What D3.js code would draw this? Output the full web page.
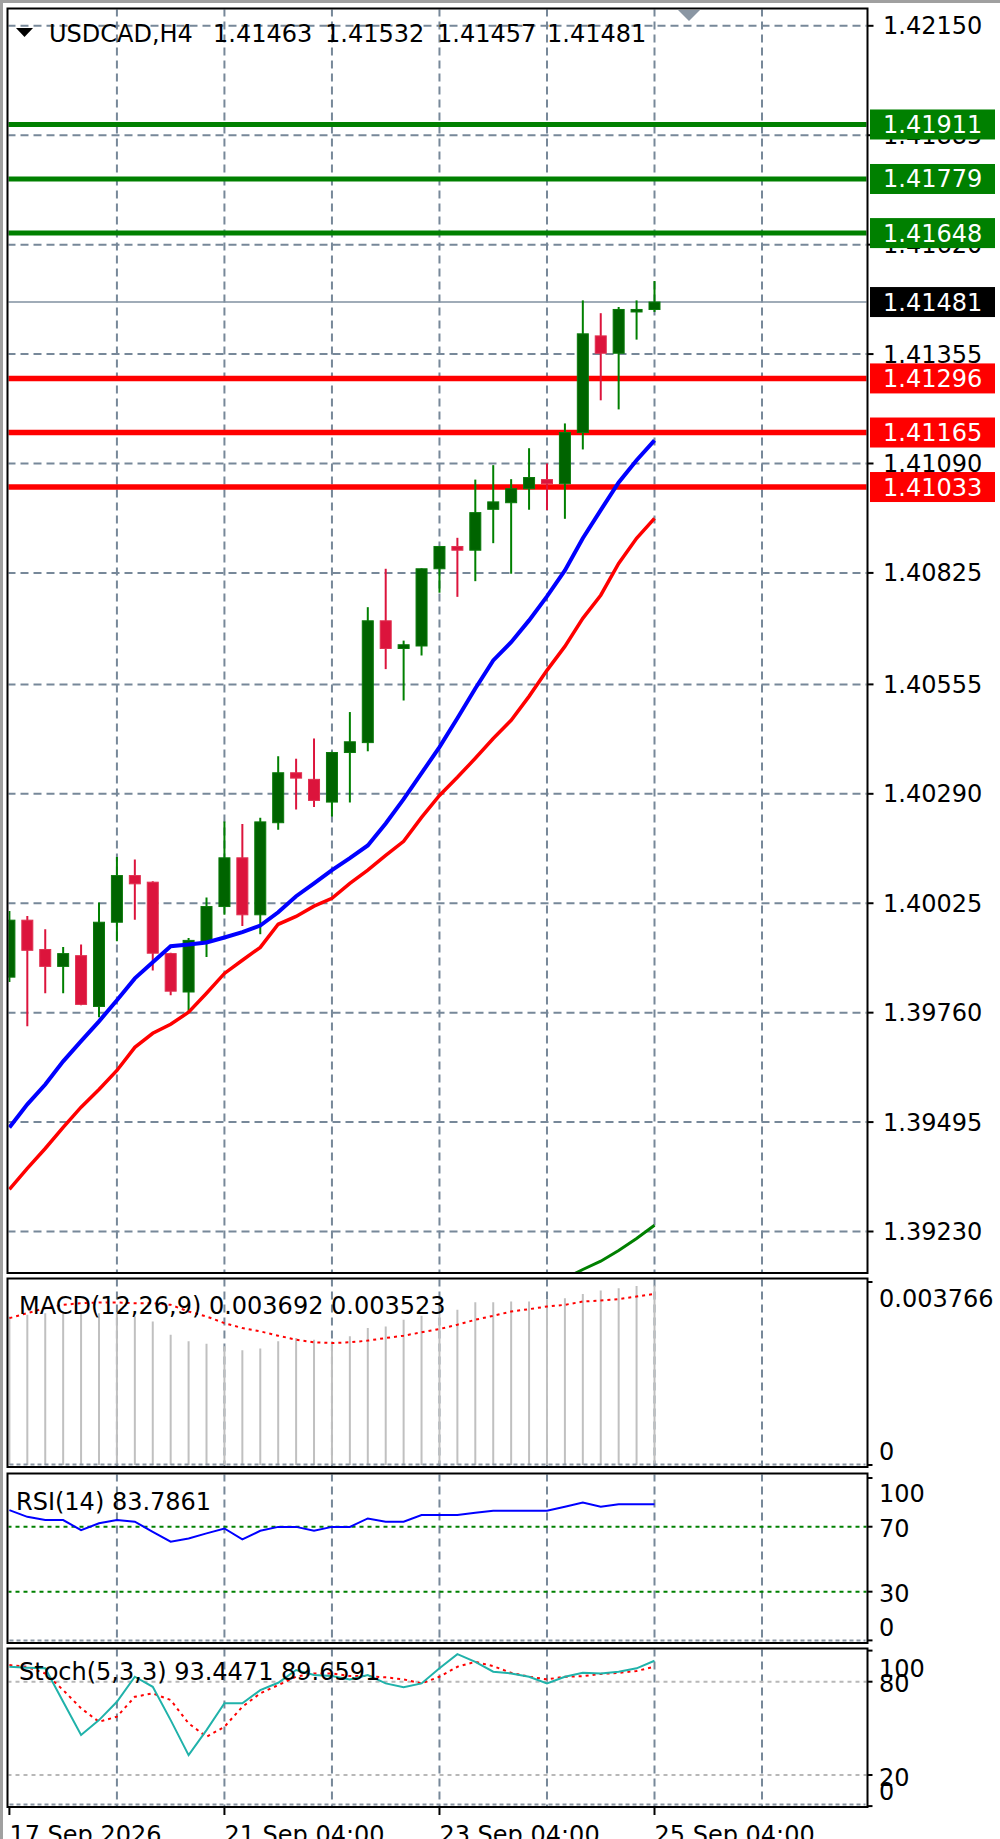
<!DOCTYPE html>
<html><head><meta charset="utf-8">
<script src="https://cdn.jsdelivr.net/npm/d3@7"></script>
<style>body{margin:0;background:#fff}svg{display:block}text{font-family:"DejaVu Sans",sans-serif}</style>
</head><body><svg id="c" width="1000" height="1839"></svg>
<script>
// ---------------- DATA ----------------
const headerSymbol = "USDCAD,H4";
const headerOHLC = ["1.41463", "1.41532", "1.41457", "1.41481"];

const open  = [1.39846,1.39984,1.39913,1.39872,1.39898,1.39775,1.39979,1.40092,1.40076,1.39903,1.39810,1.39933,1.40017,1.40135,1.39997,1.40220,1.40341,1.40325,1.40270,1.40390,1.40414,1.40709,1.40642,1.40648,1.40835,1.40889,1.40880,1.40979,1.40995,1.41029,1.41051,1.41041,1.41165,1.41399,1.41357,1.41460,1.41463];
const high  = [1.40006,1.39994,1.39962,1.39919,1.39925,1.40027,1.40137,1.40131,1.40078,1.39905,1.39941,1.40039,1.40223,1.40217,1.40232,1.40381,1.40375,1.40424,1.40392,1.40488,1.40742,1.40835,1.40661,1.40836,1.40890,1.40910,1.41051,1.41086,1.41052,1.41127,1.41090,1.41187,1.41485,1.41454,1.41469,1.41485,1.41532];
const low   = [1.39834,1.39727,1.39807,1.39807,1.39778,1.39749,1.39933,1.39985,1.39862,1.39802,1.39764,1.39895,1.39997,1.39970,1.39950,1.40203,1.40252,1.40258,1.40235,1.40269,1.40393,1.40592,1.40516,1.40625,1.40777,1.40767,1.40805,1.40897,1.40823,1.40978,1.40977,1.40956,1.41124,1.41243,1.41221,1.41390,1.41457];
const close = [1.39984,1.39911,1.39872,1.39903,1.39780,1.39979,1.40092,1.40072,1.39904,1.39812,1.39935,1.40017,1.40135,1.39997,1.40222,1.40341,1.40328,1.40274,1.40390,1.40416,1.40709,1.40642,1.40651,1.40835,1.40889,1.40880,1.40971,1.40997,1.41029,1.41056,1.41041,1.41165,1.41404,1.41357,1.41463,1.41463,1.41481];

const maBlue = [1.39482,1.39538,1.39586,1.39642,1.39691,1.39739,1.39790,1.39843,1.39882,1.39921,1.39925,1.39930,1.39942,1.39955,1.39971,1.40003,1.40042,1.40073,1.40105,1.40134,1.40165,1.40218,1.40277,1.40340,1.40403,1.40473,1.40545,1.40613,1.40657,1.40710,1.40768,1.40831,1.40909,1.40977,1.41044,1.41098,1.41146];
const maRed  = [1.39332,1.39383,1.39431,1.39482,1.39531,1.39574,1.39620,1.39676,1.39710,1.39732,1.39761,1.39807,1.39855,1.39887,1.39918,1.39974,1.39993,1.40018,1.40037,1.40073,1.40105,1.40141,1.40175,1.40233,1.40286,1.40330,1.40376,1.40424,1.40468,1.40526,1.40589,1.40647,1.40715,1.40771,1.40848,1.40909,1.40957];
const maGreen = [null,null,null,null,null,null,null,null,null,null,null,null,null,null,null,null,null,null,null,null,null,null,null,null,null,null,null,null,null,null,1.39100,1.39116,1.39138,1.39158,1.39184,1.39213,1.39245];

const priceTicks = [1.42150,1.41885,1.41620,1.41355,1.41090,1.40825,1.40555,1.40290,1.40025,1.39760,1.39495,1.39230];
const resistance = [1.41911,1.41779,1.41648];
const support    = [1.41296,1.41165,1.41033];
const lastPrice  = 1.41481;

const macdLabel = "MACD(12,26,9) 0.003692 0.003523";
const macdHist = [0.003057,0.003091,0.003125,0.003139,0.003139,0.003125,0.003125,0.003057,0.002955,0.002682,0.002545,0.002497,0.002443,0.002360,0.002395,0.002545,0.002613,0.002579,0.002545,0.002648,0.002818,0.002852,0.002989,0.003070,0.003139,0.003193,0.003351,0.003351,0.003364,0.003364,0.003398,0.003432,0.003521,0.003589,0.003636,0.003685,0.003692];
const macdSignal = [0.003022,0.003125,0.003228,0.003296,0.003330,0.003344,0.003344,0.003330,0.003330,0.003296,0.003159,0.003057,0.002920,0.002818,0.002750,0.002661,0.002579,0.002525,0.002511,0.002525,0.002560,0.002613,0.002661,0.002730,0.002798,0.002887,0.002989,0.003070,0.003159,0.003207,0.003262,0.003296,0.003364,0.003385,0.003412,0.003467,0.003523];
const macdAxis = [0.003766, 0];
const macdAxisLabels = ["0.003766", "0"];

const rsiLabel = "RSI(14) 83.7861";
const rsi = [80.2,76.1,74.1,74.1,67.9,72.1,74.1,73.1,66.9,60.8,62.8,65.9,68.9,62.2,67.5,69.9,69.9,67.5,69.9,69.9,75.1,73.1,73.1,77.2,77.2,77.2,78.6,79.9,79.9,79.9,79.9,82.3,84.9,82.3,83.9,83.9,83.79];
const rsiLevels = [70, 30];
const rsiAxis = [100, 70, 30, 0];

const stochLabel = "Stoch(5,3,3) 93.4471 89.6591";
const stochMain = [89.6,89.0,88.6,67.1,45.7,55.3,67.1,83.2,76.7,55.3,32.8,48.9,66.1,66.1,74.6,79.3,87.5,84.3,83.6,81.5,84.3,78.9,76.4,78.9,88.6,97.7,92.8,86.4,85.3,83.2,78.9,83.2,85.7,85.3,86.4,88.6,93.45];
const stochSignal = [90.7,89.5,85.3,74.6,62.9,54.2,57.5,70.3,72.5,68.2,53.2,44.6,51.0,63.9,72.5,77.8,83.2,85.3,85.3,83.6,83.6,82.8,81.5,78.9,83.2,89.6,92.8,90.0,85.7,83.2,81.5,83.2,83.6,85.0,85.7,86.9,89.66];
const stochLevels = [80, 20];
const stochAxis = [100, 80, 20, 0];

const timeTickIndex = [0, 12, 24, 36];
const timeTickLabels = ["17 Sep 2026", "21 Sep 04:00", "23 Sep 04:00", "25 Sep 04:00"];
const gridEvery = 6;

// ---------------- LAYOUT ----------------
const svg = d3.select("#c");
const L = 7.5, R = 867.5;
const main = {top: 8.5, bottom: 1273};
const pMacd = {top: 1278.5, bottom: 1467};
const pRsi = {top: 1473.5, bottom: 1643};
const pSto = {top: 1648.5, bottom: 1807};
const FS = 24;
const gridColor = "#778899";

const x = d3.scaleLinear().domain([0, 36]).range([9.4, 654.5]);
const y = d3.scaleLinear().domain([1.39230, 1.42150]).range([1231.5, 25.8]);
const yMacd = d3.scaleLinear().domain([0, 0.003766]).range([1465, 1282]);
const yRsi = d3.scaleLinear().domain([0, 100]).range([1640.4, 1478]);
const ySto = d3.scaleLinear().domain([0, 100]).range([1806.1, 1650.6]);
const N = open.length;

// outer frame
svg.append("rect").attr("x",0).attr("y",0).attr("width",1000).attr("height",1839).attr("fill","#fff");
svg.append("rect").attr("x",0).attr("y",0).attr("width",1000).attr("height",3).attr("fill","#a0a0a0");
svg.append("rect").attr("x",0).attr("y",0).attr("width",3).attr("height",1839).attr("fill","#a0a0a0");

const defs = svg.append("defs");
function clip(id, p){
  defs.append("clipPath").attr("id",id).append("rect")
    .attr("x",L+1).attr("y",p.top+1).attr("width",R-L-2).attr("height",p.bottom-p.top-2);
}
clip("cMain", main); clip("cMacd", pMacd); clip("cRsi", pRsi); clip("cSto", pSto);

// vertical grid indices
const vGrid = d3.range(gridEvery, 43, gridEvery);
function vGridLines(g, p){
  g.selectAll(null).data(vGrid).join("line")
    .attr("x1", d => x(d)).attr("x2", d => x(d))
    .attr("y1", p.top).attr("y2", p.bottom)
    .attr("stroke", gridColor).attr("stroke-width", 2).attr("stroke-dasharray", "8,5");
}

// ---------------- MAIN PANEL ----------------
const gMain = svg.append("g").attr("clip-path","url(#cMain)");
vGridLines(gMain, main);
gMain.selectAll(null).data(priceTicks).join("line")
  .attr("x1", L).attr("x2", R).attr("y1", d => y(d)).attr("y2", d => y(d))
  .attr("stroke", gridColor).attr("stroke-width", 2).attr("stroke-dasharray", "8,5");

// current price line
gMain.append("line").attr("x1",L).attr("x2",R).attr("y1",y(lastPrice)).attr("y2",y(lastPrice))
  .attr("stroke","#8090a0").attr("stroke-width",1.5);

// level lines
gMain.selectAll(null).data(resistance).join("line")
  .attr("x1",L).attr("x2",R).attr("y1",d=>y(d)).attr("y2",d=>y(d))
  .attr("stroke","#008000").attr("stroke-width",5);
gMain.selectAll(null).data(support).join("line")
  .attr("x1",L).attr("x2",R).attr("y1",d=>y(d)).attr("y2",d=>y(d))
  .attr("stroke","#ff0000").attr("stroke-width",5.5);

// candles
const candles = d3.range(N).map(i => ({i, o:open[i], h:high[i], l:low[i], c:close[i]}));
const cg = gMain.append("g");
cg.selectAll(null).data(candles).join("line")
  .attr("x1", d => x(d.i)).attr("x2", d => x(d.i))
  .attr("y1", d => y(d.h)).attr("y2", d => y(d.l))
  .attr("stroke", d => d.c >= d.o ? "#008000" : "#dc143c").attr("stroke-width", 2);
cg.selectAll(null).data(candles).join("rect")
  .attr("x", d => x(d.i) - 5.5).attr("width", 11)
  .attr("y", d => Math.min(y(d.o), y(d.c)))
  .attr("height", d => Math.max(2.5, Math.abs(y(d.o) - y(d.c))))
  .attr("fill", d => d.c >= d.o ? "#006400" : "#dc143c")
  .attr("stroke", d => d.c >= d.o ? "#0a7a0a" : "#e03050").attr("stroke-width", 1);

// moving averages
const maLine = d3.line().defined(d => d != null).x((d,i) => x(i)).y(d => y(d));
gMain.append("path").attr("d", maLine(maGreen)).attr("fill","none").attr("stroke","#008000").attr("stroke-width",3);
gMain.append("path").attr("d", maLine(maRed)).attr("fill","none").attr("stroke","#ff0000").attr("stroke-width",3.5);
gMain.append("path").attr("d", maLine(maBlue)).attr("fill","none").attr("stroke","#0000ff").attr("stroke-width",4);

// header
svg.append("path").attr("d","M16,28 L33,28 L24.5,37 Z").attr("fill","#000");
svg.append("text").attr("x",49).attr("y",42).attr("font-size",FS).attr("fill","#000").text(headerSymbol);
const hx = [213, 325, 437, 547];
headerOHLC.forEach((t,k) => svg.append("text").attr("x",hx[k]).attr("y",42).attr("font-size",FS).attr("fill","#000").text(t));
// chart shift marker
svg.append("path").attr("d","M678,10 L700,10 L689,21 Z").attr("fill","#8a96a3");

// price axis
const ga = svg.append("g");
priceTicks.forEach(p => {
  ga.append("line").attr("x1",R).attr("x2",R+6).attr("y1",y(p)).attr("y2",y(p)).attr("stroke","#000").attr("stroke-width",2);
  ga.append("text").attr("x",883).attr("y",y(p)+8.5).attr("font-size",FS).attr("fill","#000").text(p.toFixed(5));
});
function priceBox(p, fill){
  ga.append("rect").attr("x",870).attr("y",y(p)-15).attr("width",125).attr("height",30).attr("fill",fill);
  ga.append("text").attr("x",883).attr("y",y(p)+8.5).attr("font-size",FS).attr("fill","#fff").text(p.toFixed(5));
}
resistance.forEach(p => priceBox(p, "#008000"));
support.forEach(p => priceBox(p, "#ff0000"));
priceBox(lastPrice, "#000");

// ---------------- SUB PANELS ----------------
function panelFrame(p){
  svg.append("line").attr("x1",L+2).attr("x2",R-2).attr("y1",p.bottom-2.5).attr("y2",p.bottom-2.5)
    .attr("stroke","#8a96a3").attr("stroke-width",2).attr("stroke-dasharray","4,3");
  svg.append("rect").attr("x",L).attr("y",p.top).attr("width",R-L).attr("height",p.bottom-p.top)
    .attr("fill","none").attr("stroke","#000").attr("stroke-width",2);
}
function axisLabels(p, vals, labels, sc){
  vals.forEach((v,k) => {
    const yy = Math.max(p.top + 20, Math.min(p.bottom - 16, sc(v) + 2));
    svg.append("line").attr("x1",R).attr("x2",R+5).attr("y1",sc(v)).attr("y2",sc(v)).attr("stroke","#000").attr("stroke-width",2);
    svg.append("text").attr("x",879).attr("y",yy+8.5).attr("font-size",FS).attr("fill","#000").text(labels[k]);
  });
}

// MACD
const gM = svg.append("g").attr("clip-path","url(#cMacd)");
vGridLines(gM, pMacd);
gM.selectAll(null).data(macdHist).join("line")
  .attr("x1",(d,i)=>x(i)).attr("x2",(d,i)=>x(i)).attr("y1",yMacd(0)).attr("y2",d=>yMacd(d))
  .attr("stroke","#c0c0c0").attr("stroke-width",2);
gM.append("path").attr("d", d3.line().x((d,i)=>x(i)).y(d=>yMacd(d))(macdSignal))
  .attr("fill","none").attr("stroke","#ff0000").attr("stroke-width",2).attr("stroke-dasharray","3,4");
svg.append("text").attr("x",19).attr("y",1313.5).attr("font-size",FS).attr("fill","#000").text(macdLabel);
panelFrame(pMacd);
axisLabels(pMacd, macdAxis, macdAxisLabels, yMacd);

// RSI
const gR = svg.append("g").attr("clip-path","url(#cRsi)");
vGridLines(gR, pRsi);
gR.selectAll(null).data(rsiLevels).join("line")
  .attr("x1",L).attr("x2",R).attr("y1",d=>yRsi(d)).attr("y2",d=>yRsi(d))
  .attr("stroke","#008000").attr("stroke-width",2).attr("stroke-dasharray","4,4");
gR.append("path").attr("d", d3.line().x((d,i)=>x(i)).y(d=>yRsi(d))(rsi))
  .attr("fill","none").attr("stroke","#0000ff").attr("stroke-width",2);
svg.append("text").attr("x",16).attr("y",1510).attr("font-size",FS).attr("fill","#000").text(rsiLabel);
panelFrame(pRsi);
axisLabels(pRsi, rsiAxis, rsiAxis.map(String), yRsi);

// Stochastic
const gS = svg.append("g").attr("clip-path","url(#cSto)");
vGridLines(gS, pSto);
gS.selectAll(null).data(stochLevels).join("line")
  .attr("x1",L).attr("x2",R).attr("y1",d=>ySto(d)).attr("y2",d=>ySto(d))
  .attr("stroke","#b8b8b8").attr("stroke-width",2).attr("stroke-dasharray","4,4");
gS.append("path").attr("d", d3.line().x((d,i)=>x(i)).y(d=>ySto(d))(stochSignal))
  .attr("fill","none").attr("stroke","#ff0000").attr("stroke-width",2).attr("stroke-dasharray","3,4");
gS.append("path").attr("d", d3.line().x((d,i)=>x(i)).y(d=>ySto(d))(stochMain))
  .attr("fill","none").attr("stroke","#20b2aa").attr("stroke-width",2);
svg.append("text").attr("x",19).attr("y",1680).attr("font-size",FS).attr("fill","#000").text(stochLabel);
panelFrame(pSto);
axisLabels(pSto, stochAxis, stochAxis.map(String), ySto);

// main frame
svg.append("rect").attr("x",L).attr("y",main.top).attr("width",R-L).attr("height",main.bottom-main.top)
  .attr("fill","none").attr("stroke","#000").attr("stroke-width",2);

// time axis
timeTickIndex.forEach((idx,k) => {
  svg.append("line").attr("x1",x(idx)).attr("x2",x(idx)).attr("y1",pSto.bottom).attr("y2",pSto.bottom+8)
    .attr("stroke","#000").attr("stroke-width",2);
  svg.append("text").attr("x",x(idx)).attr("y",1843).attr("font-size",FS).attr("fill","#000").text(timeTickLabels[k]);
});
</script></body></html>
